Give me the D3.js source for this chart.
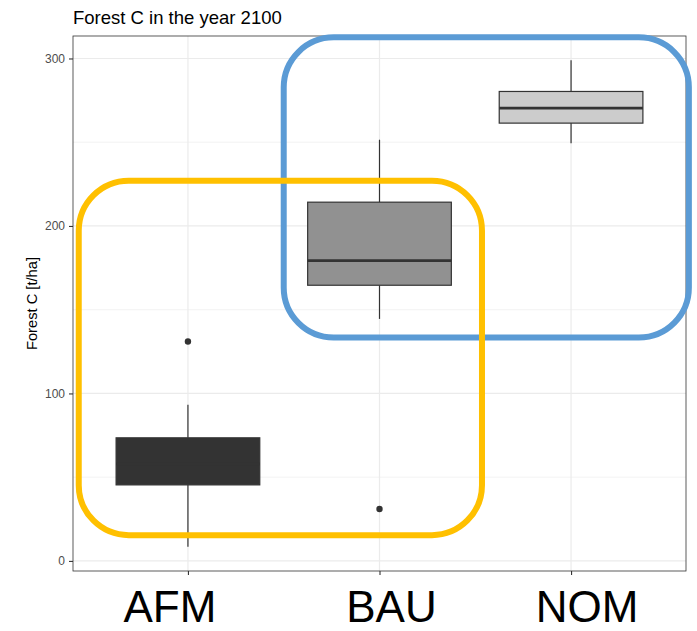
<!DOCTYPE html>
<html>
<head>
<meta charset="utf-8">
<script src="https://cdn.jsdelivr.net/npm/d3@7"></script>
<style>
  html, body { margin: 0; padding: 0; background: #fff; }
  svg { display: block; font-family: "Liberation Sans", Arial, Helvetica, sans-serif; }
</style>
</head>
<body>
<svg id="chart" width="697" height="631"></svg>
<script>
// Forest carbon stock per management scenario, year 2100 (box-plot summaries)
const categories    = ["AFM", "BAU", "NOM"];
const whiskerLow    = [8.5, 144.5, 249.4];
const quartile1     = [45.4, 164.6, 261.4];
const medians       = [58.0, 179.3, 270.4];
const quartile3     = [73.5, 214.2, 280.3];
const whiskerHigh   = [93.2, 251.5, 298.9];
const outliers      = [[131], [31], []];
const boxFills      = ["#333333", "#919191", "#cccccc"];
const yTicks        = [0, 100, 200, 300];
const yMinorTicks   = [50, 150, 250];

// Highlight frames, given in (category index, Forest C) units
const frames = [
  { name: "bau-nom", color: "#5b9bd5", x0: 0.5,   x1: 2.615, y0: 133.4, y1: 312.6 },
  { name: "afm-bau", color: "#ffc000", x0: -0.57, x1: 1.535, y0: 15.4,  y1: 227.0 }
];

const width = 697, height = 631;
const panel = { left: 73, right: 686, top: 36, bottom: 571 };

const svg = d3.select("#chart");

const x = d3.scalePoint()
  .domain(categories)
  .range([panel.left, panel.right])
  .padding(0.6);
const step = x.step();
const xi = d3.scaleLinear().domain([0, 2]).range([x(categories[0]), x(categories[2])]);

const allValues = whiskerLow.concat(whiskerHigh, outliers.flat());
const lo = d3.min(allValues), hi = d3.max(allValues);
const pad = (hi - lo) * 0.05;
const y = d3.scaleLinear().domain([lo - pad, hi + pad]).range([panel.bottom, panel.top]);

// Panel grid
const grid = svg.append("g");
grid.selectAll("line.minor").data(yMinorTicks).join("line")
  .attr("x1", panel.left).attr("x2", panel.right)
  .attr("y1", d => y(d)).attr("y2", d => y(d))
  .attr("stroke", "#ebebeb").attr("stroke-width", 0.6);
grid.selectAll("line.major").data(yTicks).join("line")
  .attr("x1", panel.left).attr("x2", panel.right)
  .attr("y1", d => y(d)).attr("y2", d => y(d))
  .attr("stroke", "#ebebeb").attr("stroke-width", 1.2);
grid.selectAll("line.vert").data(categories).join("line")
  .attr("x1", d => x(d)).attr("x2", d => x(d))
  .attr("y1", panel.top).attr("y2", panel.bottom)
  .attr("stroke", "#ebebeb").attr("stroke-width", 1.2);

// Box plots
const boxW = step * 0.75;
const boxes = svg.append("g").selectAll("g").data(categories).join("g");
boxes.append("line")
  .attr("x1", d => x(d)).attr("x2", d => x(d))
  .attr("y1", (d, i) => y(whiskerHigh[i])).attr("y2", (d, i) => y(quartile3[i]))
  .attr("stroke", "#333").attr("stroke-width", 1.2);
boxes.append("line")
  .attr("x1", d => x(d)).attr("x2", d => x(d))
  .attr("y1", (d, i) => y(quartile1[i])).attr("y2", (d, i) => y(whiskerLow[i]))
  .attr("stroke", "#333").attr("stroke-width", 1.2);
boxes.append("rect")
  .attr("x", d => x(d) - boxW / 2)
  .attr("width", boxW)
  .attr("y", (d, i) => y(quartile3[i]))
  .attr("height", (d, i) => y(quartile1[i]) - y(quartile3[i]))
  .attr("fill", (d, i) => boxFills[i])
  .attr("stroke", "#333").attr("stroke-width", 1.2);
boxes.append("line")
  .attr("x1", d => x(d) - boxW / 2).attr("x2", d => x(d) + boxW / 2)
  .attr("y1", (d, i) => y(medians[i])).attr("y2", (d, i) => y(medians[i]))
  .attr("stroke", "#333").attr("stroke-width", 2.8);
boxes.each(function (d, i) {
  d3.select(this).selectAll("circle").data(outliers[i]).join("circle")
    .attr("cx", x(d)).attr("cy", v => y(v)).attr("r", 3.2)
    .attr("fill", "#333");
});

// Panel border
svg.append("rect")
  .attr("x", panel.left).attr("y", panel.top)
  .attr("width", panel.right - panel.left).attr("height", panel.bottom - panel.top)
  .attr("fill", "none").attr("stroke", "#333").attr("stroke-width", 0.8);

// Y axis
const yAxis = svg.append("g")
  .attr("transform", `translate(${panel.left},0)`)
  .call(d3.axisLeft(y).tickValues(yTicks).tickSize(4).tickPadding(4));
yAxis.select(".domain").remove();
yAxis.selectAll(".tick line").attr("stroke", "#333").attr("stroke-width", 1.1);
yAxis.selectAll(".tick text")
  .attr("fill", "#4d4d4d").style("font-size", "12px")
  .style("font-family", "'Liberation Sans', Arial, sans-serif");

// X axis ticks
const xAxis = svg.append("g")
  .attr("transform", `translate(0,${panel.bottom})`)
  .call(d3.axisBottom(x).tickSize(4).tickFormat(""));
xAxis.select(".domain").remove();
xAxis.selectAll(".tick line").attr("stroke", "#333").attr("stroke-width", 1.1);

// Scenario names
const labelNudge = { AFM: -18, BAU: 12, NOM: 16 };
svg.append("g").selectAll("text").data(categories).join("text")
  .attr("x", d => x(d) + labelNudge[d])
  .attr("y", 621.5)
  .attr("text-anchor", "middle")
  .attr("fill", "#000")
  .style("font-size", "44px")
  .text(d => d);

// Titles
svg.append("text")
  .attr("x", panel.left).attr("y", 24)
  .attr("fill", "#000")
  .style("font-size", "18.5px")
  .text("Forest C in the year 2100");
svg.append("text")
  .attr("transform", `translate(37,${(panel.top + panel.bottom) / 2}) rotate(-90)`)
  .attr("text-anchor", "middle")
  .attr("fill", "#000")
  .style("font-size", "14.7px")
  .text("Forest C [t/ha]");

// Highlight frames
svg.append("g").selectAll("rect").data(frames).join("rect")
  .attr("x", d => xi(d.x0))
  .attr("y", d => y(d.y1))
  .attr("width", d => xi(d.x1) - xi(d.x0))
  .attr("height", d => y(d.y0) - y(d.y1))
  .attr("rx", 50).attr("ry", 50)
  .attr("fill", "none")
  .attr("stroke", d => d.color)
  .attr("stroke-width", 6);
</script>
</body>
</html>
